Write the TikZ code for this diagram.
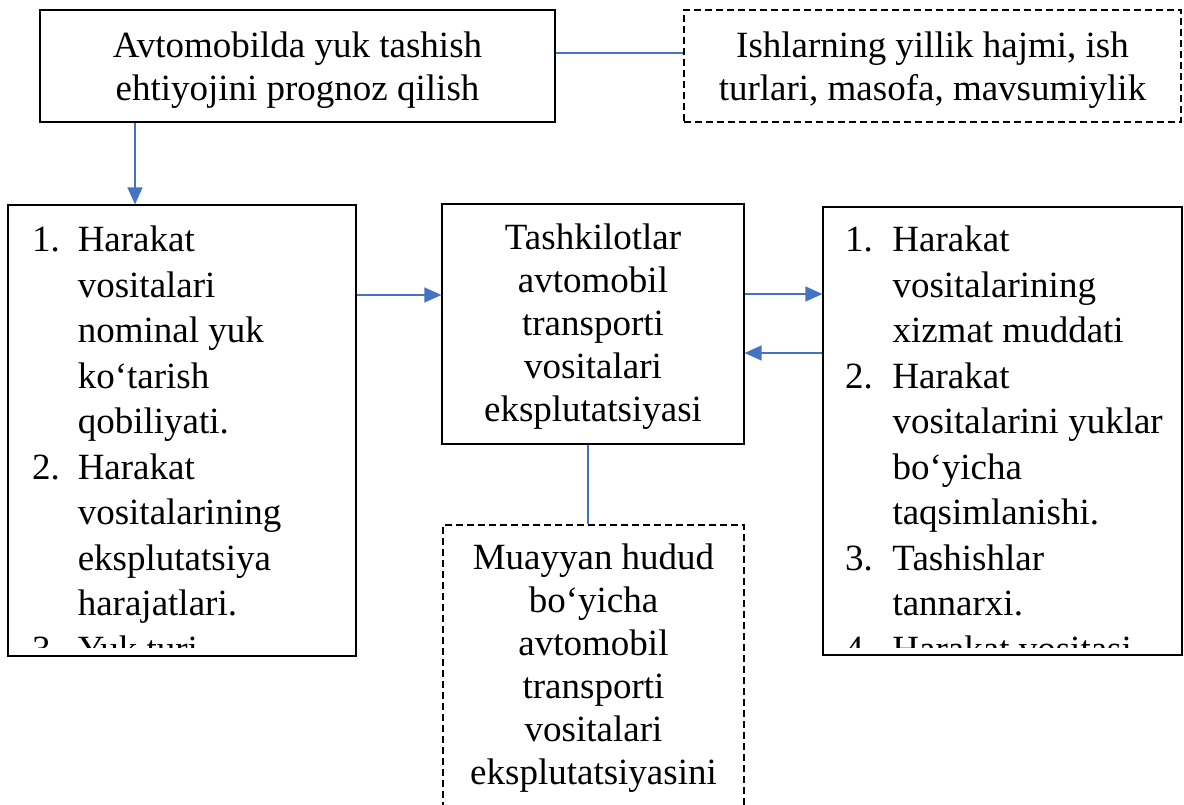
\documentclass[tikz,border=0pt]{standalone}
\usepackage{fontspec}
\setmainfont{Liberation Serif}
\usetikzlibrary{arrows.meta}
\definecolor{connblue}{HTML}{4472C4}
\newcommand\ctext[2]{\parbox[t]{#1}{\fontsize{37}{43}\selectfont\centering #2}}
\newcommand\ltext[3]{\parbox[t]{#1}{\fontsize{37}{45.5}\selectfont\raggedright\def\ind{\hspace*{#2}}#3}}
\begin{document}
\begin{tikzpicture}[x=1pt,y=-1pt,
  box/.style={draw=black, line width=1.2pt, inner sep=0pt, rectangle},
  dbox/.style={box, dash pattern=on 7pt off 4pt},
  link/.style={draw=connblue, line width=1.3pt},
  arr/.style={link, -{Triangle[length=17pt,width=15pt]}},
  txt/.style={inner sep=0pt, anchor=base},
  ltxt/.style={inner sep=0pt, anchor=base west}
]
\clip (0,0) rectangle (1184,805);
% boxes
\node[box, minimum width=515pt, minimum height=112pt] (A) at (297.5,66) {};
\node[dbox, minimum width=497pt, minimum height=112pt] (B) at (932.5,66) {};
\node[box, minimum width=348pt, minimum height=451pt] (L) at (182,430.5) {};
\node[box, minimum width=302pt, minimum height=240pt] (C) at (593,324) {};
\node[box, minimum width=359pt, minimum height=448pt] (R) at (1002.5,431) {};
\node[dbox, minimum width=301pt, minimum height=320pt] (D) at (593.5,685) {};
% texts
\node[txt] (tA) at (297.5,58) {\ctext{500pt}{Avtomobilda yuk tashish\\ehtiyojini prognoz qilish}};
\node[txt] (tB) at (932.5,58) {\ctext{490pt}{Ishlarning yillik hajmi, ish\\turlari, masofa, mavsumiylik}};
\node[txt] (tC) at (593,250) {\ctext{300pt}{Tashkilotlar\\avtomobil\\transporti\\vositalari\\eksplutatsiyasi}};
\node[txt] (tD) at (593.5,569) {\ctext{300pt}{Muayyan hudud\\bo‘yicha\\avtomobil\\transporti\\vositalari\\eksplutatsiyasini}};
\begin{scope}
\clip (8,205) rectangle (356,647);
\node[ltxt] (tL) at (32,252) {\ltext{330pt}{45.6pt}{\makebox[45.6pt][l]{1.}Harakat\\\ind vositalari\\\ind nominal yuk\\\ind ko‘tarish\\\ind qobiliyati.\\\makebox[45.6pt][l]{2.}Harakat\\\ind vositalarining\\\ind eksplutatsiya\\\ind harajatlari.\\\makebox[45.6pt][l]{3.}Yuk turi}};
\end{scope}
\begin{scope}
\clip (823,207) rectangle (1182,647);
\node[ltxt] (tR) at (845,252) {\ltext{340pt}{47.3pt}{\makebox[47.3pt][l]{1.}Harakat\\\ind vositalarining\\\ind xizmat muddati\\\makebox[47.3pt][l]{2.}Harakat\\\ind vositalarini yuklar\\\ind bo‘yicha\\\ind taqsimlanishi.\\\makebox[47.3pt][l]{3.}Tashishlar\\\ind tannarxi.\\\makebox[47.3pt][l]{4.}Harakat vositasi}};
\end{scope}
% connectors
\coordinate (a1) at (135,0);
\coordinate (d1) at (588,0);
\draw[link] (A.east |- 0,53) -- (B.west |- 0,53);
\draw[arr] (A.south -| a1) -- (L.north -| a1);
\draw[arr] (L.east |- 0,295) -- (C.west |- 0,295);
\draw[arr] (C.east |- 0,294) -- (R.west |- 0,294);
\draw[arr] (R.west |- 0,353) -- (C.east |- 0,353);
\draw[link] (C.south -| d1) -- (D.north -| d1);
\end{tikzpicture}
\end{document}
